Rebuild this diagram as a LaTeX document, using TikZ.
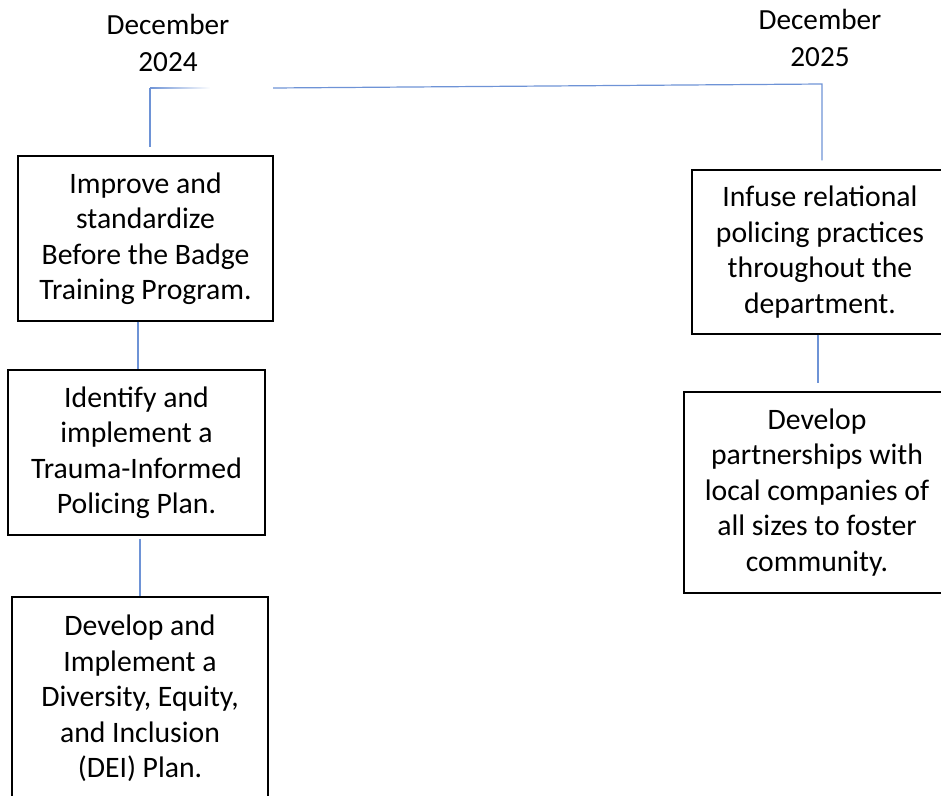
\documentclass[tikz,border=0pt]{standalone}
\usepackage{fontspec}
\setmainfont{Carlito}
\usetikzlibrary{fadings}
\definecolor{linkblue}{HTML}{6E93D6}
\tikzset{
  goal/.style={draw=black, line width=1.4pt, align=center, inner sep=0pt,
    font=\fontsize{29.7}{35.5}\selectfont},
  year/.style={align=center, inner sep=0pt, font=\fontsize{29.2}{37}\selectfont},
  link/.style={draw=linkblue, line width=1.2pt},
}
\begin{document}
\begin{tikzpicture}[x=1pt, y=-1pt]
        \useasboundingbox (0,0) rectangle (941,795);
        \clip (0,0) rectangle (941,795);

        % Year labels
        \node[year] (y24) at (168,43) {December\\2024};
        \node[year] (y25) at (820,38) {December\\2025};

        % Left column
        \node[goal, minimum width=255pt, minimum height=165pt] (badge) at (145.5,238.5)
            {Improve and\\standardize\\Before the Badge\\Training Program.};
        \node[goal, minimum width=257pt, minimum height=165pt] (trauma) at (136.5,452.5)
            {Identify and\\implement a\\Trauma-Informed\\Policing Plan.};
        \node[goal, minimum width=256pt, minimum height=203pt] (dei) at (140,698.5)
            {Develop and\\Implement a\\Diversity, Equity,\\and Inclusion\\(DEI) Plan.};

        % Right column
        \node[goal, minimum width=256pt, minimum height=164pt] (relational) at (820,252)
            {Infuse relational\\policing practices\\throughout the\\department.};
        \node[goal, minimum width=266pt, minimum height=201pt] (partners) at (817,492.5)
            {Develop\\partnerships with\\local companies of\\all sizes to foster\\community.};

        % Timeline
        \coordinate (c24) at (150,88);
        \coordinate (gap) at (273,88);
        \coordinate (c25) at (822,84);
        \draw[link] (c24) -- ([xshift=4.5pt,yshift=8pt]badge.north);
        \draw[link, path fading=east] (c24) -- ++(60,0);
        \draw[link] (gap) -- (c25) -- ([xshift=2pt,yshift=9pt]relational.north);

        % Links between goals
        \draw[link] ([xshift=-7.5pt]badge.south) -- ([xshift=1.5pt]trauma.north);
        \draw[link] ([xshift=3.5pt,yshift=-3pt]trauma.south) -- (dei.north);
        \draw[link] ([xshift=-2pt]relational.south) -- ([xshift=1pt,yshift=8pt]partners.north);
    \end{tikzpicture}
\end{document}
